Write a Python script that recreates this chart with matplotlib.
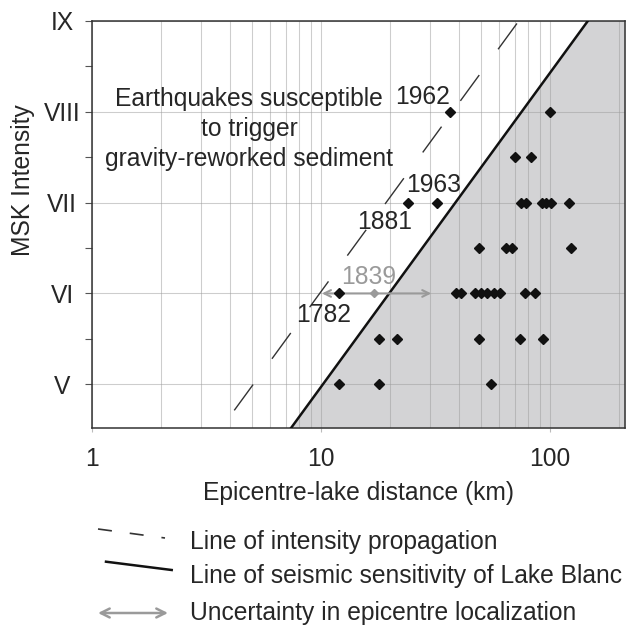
import matplotlib.pyplot as plt
from matplotlib.lines import Line2D
from matplotlib.ticker import LogLocator, NullFormatter

plt.rcParams['font.family'] = ['Liberation Sans', 'DejaVu Sans']

# epicentre-lake distance (km) / MSK intensity of the earthquakes (black diamonds)
quake_km = [36.6, 100,
            70, 82.5,
            24, 32, 75, 78.5, 92.3, 96.5, 101, 121,
            49, 64.5, 68, 123.5,
            12, 38.9, 40.8, 46.9, 50, 53.1, 56.9, 60.7, 78, 86,
            18, 21.5, 49, 74, 93.5,
            12, 18, 55]
quake_msk = [8, 8,
             7.5, 7.5,
             7, 7, 7, 7, 7, 7, 7, 7,
             6.5, 6.5, 6.5, 6.5,
             6, 6, 6, 6, 6, 6, 6, 6, 6, 6,
             5.5, 5.5, 5.5, 5.5, 5.5,
             5, 5, 5]

# 1839 event, uncertain location
km_1839 = 17
msk_1839 = 6
km_1839_range = [10.1, 30.3]

# line of intensity propagation (dashed) and sensitivity of Lake Blanc (solid)
prop_km = [4.18, 73.2]
prop_msk = [4.714, 9.0]
sens_km = [7.4, 146.6]
sens_msk = [4.52, 9.0]

msk_ticks = [5, 6, 7, 8, 9]
msk_labels = ['V', 'VI', 'VII', 'VIII', 'IX']
km_ticks = [1, 10, 100]
km_labels = ['1', '10', '100']

txt = '#262626'
fs = 17.7
W, H = 629, 628

fig = plt.figure(figsize=(W / 100, H / 100), dpi=100)
ax = fig.add_axes([92 / W, 1 - 428 / H, 533 / W, 407.3 / H])
ax.set_xscale('log')
ax.set_xlim(1, 212.6)
ax.set_ylim(4.52, 9.0)

# grey area right of the sensitivity line
ax.fill_betweenx(sens_msk, sens_km, 212.6, color='#d3d3d5', lw=0, zorder=1)

ax.plot(sens_km, sens_msk, color='#111111', lw=1.8, zorder=3)
ax.plot(prop_km, prop_msk, color='#333333', lw=1.0, dashes=(23, 23), zorder=3)

ax.annotate('', xy=(km_1839_range[0], msk_1839), xytext=(km_1839_range[1], msk_1839),
            arrowprops=dict(arrowstyle='<->', color='#9a9a9a', lw=1.5,
                            shrinkA=0, shrinkB=0, mutation_scale=12), zorder=3)
ax.plot([km_1839], [msk_1839], 'D', ms=4.2, color='#9a9a9a', zorder=4)
ax.plot(quake_km, quake_msk, 'D', ms=4.8, color='#111111', lw=0, zorder=4)

# annotations
for s, x, y in [('1962', 27.9, 8.085), ('1963', 30.9, 7.113),
                ('1881', 19.0, 6.711), ('1782', 10.3, 5.685)]:
    ax.text(x, y, s, ha='center', va='baseline', fontsize=fs, color=txt, zorder=5)
ax.text(16.2, 6.107, '1839', ha='center', va='baseline', fontsize=fs,
        color='#9a9a9a', zorder=5)
for s, y in [('Earthquakes susceptible', 8.066), ('to trigger', 7.736),
             ('gravity-reworked sediment', 7.407)]:
    ax.text(4.85, y, s, ha='center', va='baseline', fontsize=fs, color=txt, zorder=5)

# axes, ticks, grid
ax.set_xticks(km_ticks, km_labels)
ax.xaxis.set_minor_locator(LogLocator(base=10, subs=range(2, 10)))
ax.xaxis.set_minor_formatter(NullFormatter())
ax.set_yticks(msk_ticks, msk_labels)
ax.set_yticks([5.5, 6.5, 7.5, 8.5], minor=True)

ax.grid(which='both', axis='x', color='#9c9c9c', alpha=0.5, lw=0.75)
ax.grid(which='major', axis='y', color='#9c9c9c', alpha=0.5, lw=0.75)

ax.tick_params(axis='x', which='major', length=3, color='#bbbbbb', pad=11,
               labelsize=fs, labelcolor=txt)
ax.tick_params(axis='x', which='minor', length=0)
ax.tick_params(axis='y', which='both', length=5, width=0.8, color='#555555',
               pad=16.6, labelsize=fs, labelcolor=txt)
for lab in ax.get_yticklabels():
    lab.set_horizontalalignment('center')

for sp in ax.spines.values():
    sp.set_color('#333333')
    sp.set_linewidth(1.1)

ax.set_xlabel('Epicentre-lake distance (km)', fontsize=fs, color=txt, va='baseline')
ax.xaxis.set_label_coords(0.5, -0.178)
ax.set_ylabel('MSK Intensity', fontsize=fs, color=txt)
ax.yaxis.label.set_verticalalignment('center')
ax.yaxis.set_label_coords(-0.129, 0.609)

# legend drawn below the axes (figure pixel positions)
def px(x, y):
    return x / W, 1 - y / H

l1 = Line2D(*zip(px(98, 529), px(165, 538)), transform=fig.transFigure,
            color='#333333', lw=1.2, dashes=(8.4, 10.8))
l2 = Line2D(*zip(px(106, 561.7), px(171.7, 570)), transform=fig.transFigure,
            color='#111111', lw=1.8)
fig.add_artist(l1)
fig.add_artist(l2)
fig.add_artist(plt.matplotlib.patches.FancyArrowPatch(
    px(98, 613), px(168, 613), transform=fig.transFigure, arrowstyle='<->',
    color='#9a9a9a', lw=1.8, mutation_scale=16, shrinkA=0, shrinkB=0))

for s, y in [('Line of intensity propagation', 549.3),
             ('Line of seismic sensitivity of Lake Blanc', 583.3),
             ('Uncertainty in epicentre localization', 620)]:
    fig.text(*px(190, y), s, ha='left', va='baseline', fontsize=fs, color=txt)

fig.savefig('out.png', dpi=100)
